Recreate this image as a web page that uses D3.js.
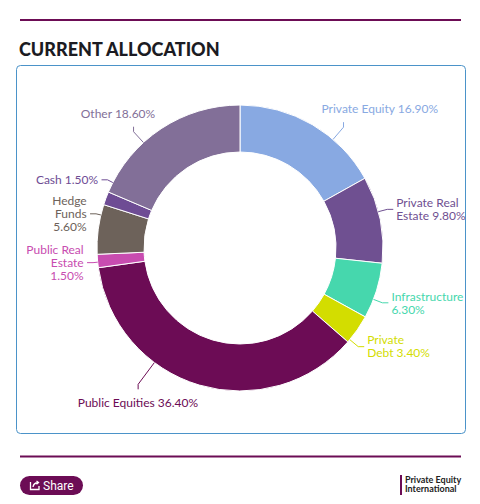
<!DOCTYPE html>
<html>
<head>
<meta charset="utf-8">
<script src="https://cdn.jsdelivr.net/npm/d3@7/dist/d3.min.js"></script>
<style>
  body { margin: 0; background: #fff; }
  svg { display: block; }
</style>
</head>
<body>
<div id="chart"></div>
<script>
var width = 480;
var height = 504;

// data, clockwise from 12 o'clock
var categories = ["Private Equity", "Private Real Estate", "Infrastructure", "Private Debt",
                  "Public Equities", "Public Real Estate", "Hedge Funds", "Cash", "Other"];
var values = [16.9, 9.8, 6.3, 3.4, 36.4, 1.5, 5.6, 1.5, 18.6];
var colors = ["#88a9e2", "#6f5091", "#46d7ad", "#d3dd00", "#6c0c55",
              "#c84cb0", "#6d625a", "#6e4c94", "#826f98"];
var labelLines = [
  ["Private Equity 16.90%"],
  ["Private Real", "Estate 9.80%"],
  ["Infrastructure", "6.30%"],
  ["Private", "Debt 3.40%"],
  ["Public Equities 36.40%"],
  ["Public Real", "Estate", "1.50%"],
  ["Hedge", "Funds", "5.60%"],
  ["Cash 1.50%"],
  ["Other 18.60%"]
];

var brand = "#6c0c55";

var svg = d3.select("#chart")
            .append("svg")
            .attr("width", width)
            .attr("height", height);

// frame: rules, title, box
svg.append("rect")
   .attr("x", 20).attr("y", 19)
   .attr("width", 441).attr("height", 2)
   .attr("fill", brand);

svg.append("text")
   .attr("x", 19)
   .attr("y", 56)
   .attr("font-family", "Lato")
   .attr("font-weight", 900)
   .attr("font-size", 18)
   .attr("fill", "#1b1b22")
   .text("CURRENT ALLOCATION");

svg.append("rect")
   .attr("x", 16.5).attr("y", 65.5)
   .attr("width", 449).attr("height", 368)
   .attr("rx", 4)
   .attr("fill", "none")
   .attr("stroke", "#4b93c9")
   .attr("stroke-width", 1);

svg.append("rect")
   .attr("x", 20).attr("y", 455.5)
   .attr("width", 441).attr("height", 2)
   .attr("fill", brand);

// donut
var cx = 240, cy = 248;
var outerR = 143, innerR = 96, labelR = 161;
var lineH = 13;

var pie = d3.pie().sort(null).value(function(d) { return d; });
var arcs = pie(values);
var arc = d3.arc().innerRadius(innerR).outerRadius(outerR);

var g = svg.append("g").attr("transform", "translate(" + cx + "," + cy + ")");

g.selectAll("path.slice")
 .data(arcs)
 .join("path")
 .attr("class", "slice")
 .attr("d", arc)
 .attr("fill", function(d, i) { return colors[i]; })
 .attr("stroke", "#fff")
 .attr("stroke-width", 1);

// label layout: multi-line labels grow away from the horizontal centre line
var items = arcs.map(function(d, i) {
  var mid = (d.startAngle + d.endAngle) / 2;
  var n = labelLines[i].length;
  var ny = -labelR * Math.cos(mid);
  var grow = Math.abs(Math.cos(mid)) > 0.1 ? (ny < 0 ? -1 : 1) : 0;
  return {
    i: i,
    mid: mid,
    right: Math.sin(mid) >= 0,
    y: ny + grow * (n - 1) * lineH / 2,
    h: n * lineH
  };
});

var gap = 8;
var rightSide = items.filter(function(d) { return d.right; }).sort(function(a, b) { return a.y - b.y; });
for (var k = 1; k < rightSide.length; k++) {
  var p = rightSide[k - 1], c = rightSide[k];
  var minY = p.y + p.h / 2 + gap + c.h / 2;
  if (c.y < minY) c.y = minY;
}
var leftSide = items.filter(function(d) { return !d.right; }).sort(function(a, b) { return b.y - a.y; });
for (var k = 1; k < leftSide.length; k++) {
  var p = leftSide[k - 1], c = leftSide[k];
  var maxY = p.y - p.h / 2 - gap - c.h / 2;
  if (c.y > maxY) c.y = maxY;
}

items.forEach(function(d) {
  var dx = Math.sqrt(Math.max(labelR * labelR - d.y * d.y, 0));
  d.x = d.right ? dx : -dx + 4;
});

var labels = g.selectAll("g.lab")
  .data(items)
  .join("g")
  .attr("class", "lab");

labels.append("text")
  .attr("x", function(d) { return d.x; })
  .attr("y", function(d) { return d.y - (labelLines[d.i].length - 1) * lineH / 2; })
  .attr("text-anchor", function(d) { return d.right ? "start" : "end"; })
  .attr("font-family", "Lato")
  .attr("font-size", 12)
  .attr("fill", function(d) { return colors[d.i]; })
  .each(function(d) {
    var t = d3.select(this);
    labelLines[d.i].forEach(function(s, j) {
      t.append("tspan")
       .attr("x", d.x)
       .attr("dy", j === 0 ? "0.35em" : lineH)
       .text(s);
    });
  });

// connectors: short crook out of the label, then straight to the ring
labels.each(function(d) {
  var bb = d3.select(this).select("text").node().getBBox();
  var a, b;
  var cosM = Math.cos(d.mid);
  if (Math.abs(cosM) > 0.8) {
    if (cosM > 0) {
      var tx = outerR * Math.sin(d.mid);
      var ax = Math.max(bb.x + 22, Math.min(bb.x + bb.width - 22, tx));
      a = [ax, d.y + 13];
      b = [ax, a[1] + 5];
    } else {
      var ax = bb.x + bb.width / 2;
      a = [ax, d.y - 13];
      b = [ax, a[1] - 5];
    }
  } else if (d.right) {
    a = [bb.x - 3, d.y];
    b = [a[0] - 6, d.y];
  } else {
    a = [bb.x + bb.width + 3, d.y];
    b = [a[0] + 6, d.y];
  }
  var len = Math.sqrt(b[0] * b[0] + b[1] * b[1]);
  var pts = [a, b];
  if (len > outerR) pts.push([b[0] * outerR / len, b[1] * outerR / len]);
  d3.select(this).append("path")
    .attr("d", d3.line()(pts))
    .attr("fill", "none")
    .attr("stroke", colors[d.i])
    .attr("stroke-width", 1);
});

// footer: share button and logo
var share = svg.append("g");
share.append("rect")
     .attr("x", 20).attr("y", 476)
     .attr("width", 63).attr("height", 19)
     .attr("rx", 9.5)
     .attr("fill", brand);
share.append("path")
     .attr("d", "M30.5,482 v7.5 h8.5 v-3.5 M33,487 q0.5,-4 5,-4.5 M36.5,481 l2,1.5 l-2,1.8")
     .attr("fill", "none")
     .attr("stroke", "#fff")
     .attr("stroke-width", 1.3);
share.append("text")
     .attr("x", 43).attr("y", 489.5)
     .attr("font-family", "Roboto")
     .attr("font-size", 12)
     .attr("fill", "#fff")
     .text("Share");

svg.append("rect")
   .attr("x", 400).attr("y", 475)
   .attr("width", 2).attr("height", 20)
   .attr("fill", brand);
svg.append("text")
   .attr("x", 405).attr("y", 483)
   .attr("font-family", "Lato")
   .attr("font-weight", 700)
   .attr("font-size", 9)
   .attr("fill", "#222")
   .text("Private Equity");
svg.append("text")
   .attr("x", 405).attr("y", 492)
   .attr("font-family", "Lato")
   .attr("font-weight", 700)
   .attr("font-size", 9)
   .attr("fill", "#222")
   .text("International");
</script>
</body>
</html>
